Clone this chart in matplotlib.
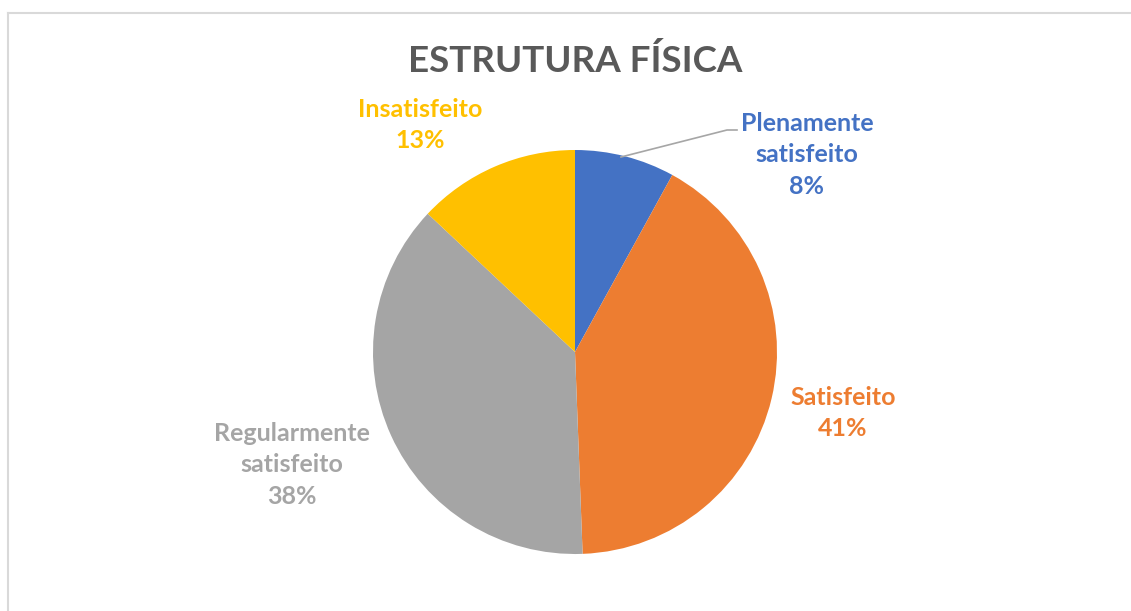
import matplotlib.pyplot as plt
from matplotlib.lines import Line2D

# data
categories = ["Plenamente\nsatisfeito", "Satisfeito", "Regularmente\nsatisfeito", "Insatisfeito"]
values = [8.0, 41.4, 37.6, 13.0]
colors = ["#4472C4", "#ED7D31", "#A5A5A5", "#FFC000"]

W, H = 1131, 611
fig = plt.figure(figsize=(W / 100, H / 100), dpi=100)
ax = fig.add_axes([0, 0, 1, 1])

cx, cy, r = 575, H - 352, 202
ax.pie(values, colors=colors, startangle=90, counterclock=False,
       center=(cx, cy), radius=r, frame=True)
ax.set_xlim(0, W)
ax.set_ylim(0, H)
ax.set_aspect("equal")
ax.axis("off")

# chart frame (top and left visible)
fig.add_artist(Line2D([8 / W, 1], [1 - 13 / H, 1 - 13 / H], color="#D9D9D9", lw=1.5))
fig.add_artist(Line2D([8 / W, 8 / W], [1 - 13 / H, 0], color="#D9D9D9", lw=1.5))

ax.text(575, H - 61, "ESTRUTURA FÍSICA", ha="center", va="center",
        fontsize=26.5, fontweight="bold", color="#595959", family="Lato")

label_pos = [(807, 155), (843, 413), (292, 465), (420, 125)]
total = sum(values)
for cat, v, c, (x, y) in zip(categories, values, colors, label_pos):
    ax.text(x, H - y, f"{cat}\n{round(100 * v / total)}%", ha="center", va="center",
            fontsize=18, fontweight="bold", color=c, family="Lato", linespacing=1.45)

# leader line for the small slice
ax.plot([621, 727, 737], [H - 157, H - 130, H - 130], color="#A6A6A6", lw=1.2)

fig.savefig("out.png", dpi=100)
